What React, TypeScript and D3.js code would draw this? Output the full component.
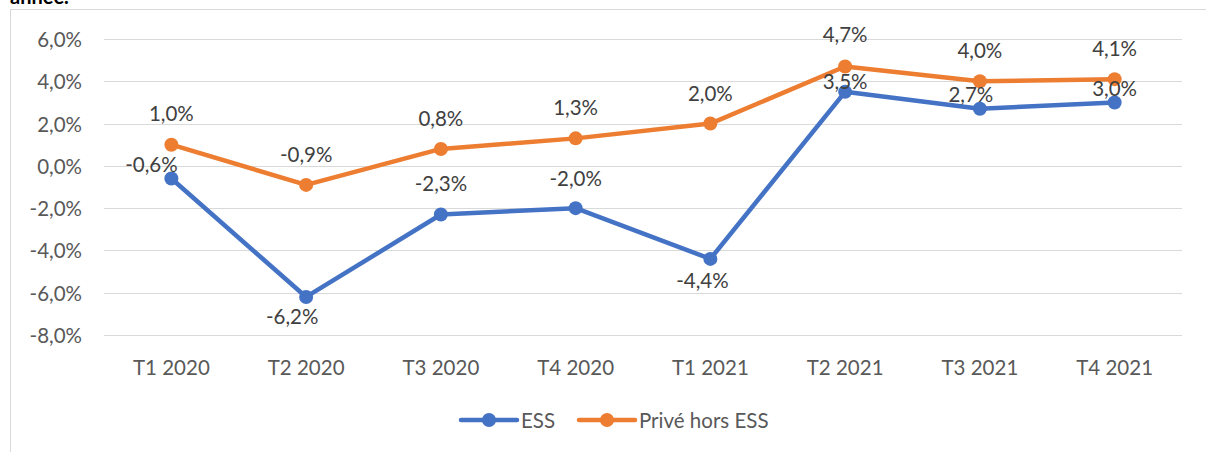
import React from 'react';
import * as d3 from 'd3';

const categories = ['T1 2020', 'T2 2020', 'T3 2020', 'T4 2020', 'T1 2021', 'T2 2021', 'T3 2021', 'T4 2021'];
const essValues = [-0.6, -6.2, -2.3, -2.0, -4.4, 3.5, 2.7, 3.0];
const priveValues = [1.0, -0.9, 0.8, 1.3, 2.0, 4.7, 4.0, 4.1];
const yTicks = [-8, -6, -4, -2, 0, 2, 4, 6];
const seriesNames = ['ESS', 'Privé hors ESS'];

// label nudges (dx, dy from the point), as placed in the original sheet
const essLabelOffsets: [number, number][] = [
  [-20, -15], [-14, 19], [0, -31], [0, -30], [-8, 21], [0, -11], [-9, -15], [0, -14]
];
const priveLabelOffsets: [number, number][] = [
  [0, -32], [0, -31], [0, -31], [0, -31], [0, -31], [0, -32], [0, -31], [0, -31]
];

const W = 1206;
const H = 452;
const FONT = 'Lato, "Open Sans", sans-serif';
const TEXT = '#595959';
const BLUE = '#4472C4';
const ORANGE = '#ED7D31';
const FS = 20.5;

const fmt = (v: number) => v.toFixed(1).replace('.', ',') + '%';

const App = () => {
  const x = d3.scaleBand<string>().domain(categories).range([104, 1182]).padding(0);
  const y = d3.scaleLinear().domain([-8, 6]).range([335, 39]);
  const cx = (c: string) => (x(c) as number) + x.bandwidth() / 2;

  const line = d3.line<number>()
    .x((_, i) => cx(categories[i]))
    .y(d => y(d));

  const series = [
    { name: seriesNames[0], values: essValues, color: BLUE, offsets: essLabelOffsets },
    { name: seriesNames[1], values: priveValues, color: ORANGE, offsets: priveLabelOffsets }
  ];

  const legend = [
    { name: seriesNames[0], color: BLUE, x0: 461 },
    { name: seriesNames[1], color: ORANGE, x0: 579 }
  ];

  return (
    <svg width={W} height={H} style={{ position: 'absolute', left: 0, top: 0, background: '#fff' }}
      fontFamily={FONT}>
      {/* cut-off caption from the page above */}
      <text x={10} y={4} fontSize={20} fontWeight="bold" fill="#000">année.</text>
      {/* chart frame */}
      <rect x={10.5} y={9.5} width={W + 10} height={H + 10} fill="none" stroke="#d9d9d9" strokeWidth={1} />

      {yTicks.map(t => (
        <g key={t}>
          <line x1={104} x2={1182} y1={Math.round(y(t)) + 0.5} y2={Math.round(y(t)) + 0.5}
            stroke="#d9d9d9" strokeWidth={1} />
          <text x={82} y={y(t)} textAnchor="end" dominantBaseline="central" fontSize={FS} fill={TEXT}>
            {fmt(t)}
          </text>
        </g>
      ))}

      {categories.map(c => (
        <text key={c} x={cx(c)} y={367} textAnchor="middle" dominantBaseline="central" fontSize={FS} fill={TEXT}>
          {c}
        </text>
      ))}

      {series.map(s => (
        <g key={s.name}>
          <path d={line(s.values) || ''} fill="none" stroke={s.color} strokeWidth={4.5} strokeLinejoin="round" strokeLinecap="round" />
          {s.values.map((v, i) => (
            <circle key={i} cx={cx(categories[i])} cy={y(v)} r={7} fill={s.color} />
          ))}
        </g>
      ))}

      {series.map(s => (
        <g key={s.name + '-labels'}>
          {s.values.map((v, i) => (
            <text key={i} x={cx(categories[i]) + s.offsets[i][0]} y={y(v) + s.offsets[i][1]}
              textAnchor="middle" dominantBaseline="central" fontSize={FS} fill="#404040">
              {fmt(v)}
            </text>
          ))}
        </g>
      ))}

      {legend.map(l => (
        <g key={l.name}>
          <line x1={l.x0} x2={l.x0 + 56} y1={420} y2={420} stroke={l.color} strokeWidth={4.5} strokeLinecap="round" />
          <circle cx={l.x0 + 28} cy={420} r={7} fill={l.color} />
          <text x={l.x0 + 60} y={420} dominantBaseline="central" fontSize={FS} fill={TEXT}>{l.name}</text>
        </g>
      ))}
    </svg>
  );
};

export default App;
